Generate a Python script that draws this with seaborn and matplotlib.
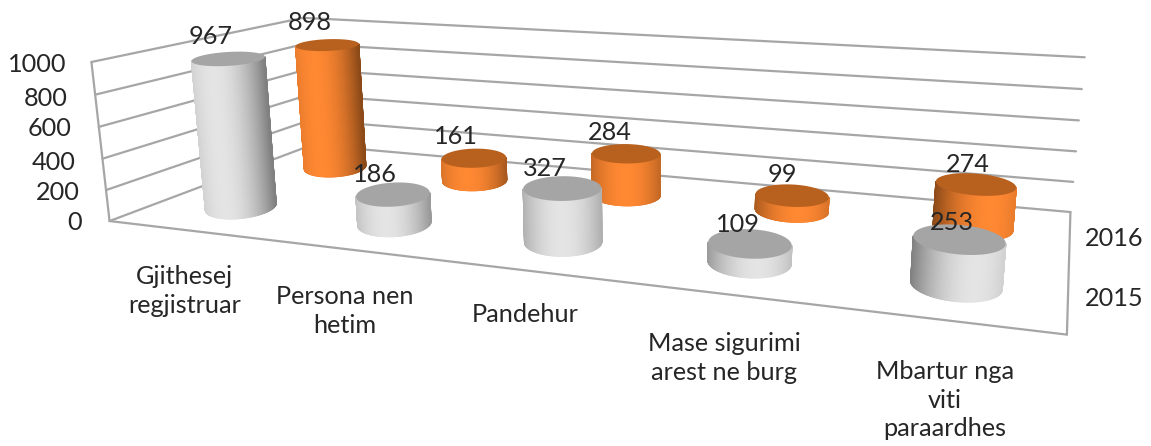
import numpy as np
import pandas as pd
import matplotlib
matplotlib.use("Agg")
import matplotlib.pyplot as plt
from matplotlib.collections import PolyCollection
import seaborn as sns

# ---- data ----
categories = ["Gjithesej\nregjistruar", "Persona nen\nhetim", "Pandehur",
              "Mase sigurimi\narest ne burg", "Mbartur nga\nviti\nparaardhes"]
series_names = ["2015", "2016"]
values_2015 = [967, 186, 327, 109, 253]
values_2016 = [898, 161, 284, 99, 274]
z_ticks = [0, 200, 400, 600, 800, 1000]

# ---- layout / style ----
W, H = 1151, 446
Z_MAX = 1000
GRID = "#a6a6a6"
FONT = "Lato"
FS = 18.2
RU, RV = 0.042, 0.12
TILT_LEFT, TILT_SLOPE = -0.032, 0.028
anchors = [((0, 0, 0), (109, 221), 3), ((0, 0, 1), (92, 62), 3), ((0, 1, 0), (317, 145), 1),
           ((0, 1, 1), (298, 18), 1), ((1, 1, 0), (1069, 212), 1), ((1, 1, 1), (1086, 57), 1),
           ((1, 0, 0), (1067, 335), 1)]
palettes = {
    "2015": dict(top="#a5a5a5", hi=np.array([228, 228, 228]), lo=np.array([128, 128, 128])),
    "2016": dict(top="#b8611f", hi=np.array([255, 136, 50]), lo=np.array([140, 74, 24])),
}
tick_px = {0: (82, 223), 200: (80, 193), 400: (76, 162), 600: (72, 129), 800: (68, 98), 1000: (66, 65)}
cat_px = [(185, 291), (345, 311), (525, 314), (724, 358), (945, 400)]
series_px = {"2015": (1114, 299), "2016": (1114, 239)}
label_px = {"2015": [(211, 37), (375, 174), (545, 168), (738, 224), (952, 223)],
            "2016": [(310, 22), (456, 137), (610, 132), (782, 174), (968, 164)]}


def fit_projection(pairs):
    rows = []
    for (x, y, z), (px, py), w in pairs:
        rows.append(w * np.array([x, y, z, 1, 0, 0, 0, 0, -px * x, -px * y, -px * z, -px], float))
        rows.append(w * np.array([0, 0, 0, 0, x, y, z, 1, -py * x, -py * y, -py * z, -py], float))
    return np.linalg.svd(np.array(rows, float))[2][-1].reshape(3, 4)


P = fit_projection(anchors)


def project(u, v, val):
    u, v, z = np.broadcast_arrays(u, v, np.asarray(val, float) / Z_MAX)
    h = P @ np.vstack([u.ravel(), v.ravel(), z.ravel(), np.ones(u.size)])
    return h[0] / h[2], h[1] / h[2]


sns.set_theme(style="white")
plt.rcParams["font.family"] = [FONT, "DejaVu Sans"]
fig = plt.figure(figsize=(W / 100, H / 100), dpi=100)
ax = fig.add_axes([0, 0, 1, 1])

# walls and gridlines
segments = []
sid = 0
for t in z_ticks:
    for a, b in [((0, 0), (0, 1)), ((0, 1), (1, 1))]:
        xs, ys = project(np.array([a[0], b[0]]), np.array([a[1], b[1]]), [t, t])
        segments.append(pd.DataFrame({"x": xs, "y": ys, "seg": sid}))
        sid += 1
for a, b in [((0, 0, 0), (1, 0, 0)), ((0, 0, 0), (0, 0, Z_MAX)), ((1, 1, 0), (1, 0, 0))]:
    xs, ys = project(np.array([a[0], b[0]]), np.array([a[1], b[1]]), [a[2], b[2]])
    segments.append(pd.DataFrame({"x": xs, "y": ys, "seg": sid}))
    sid += 1
grid_df = pd.concat(segments, ignore_index=True)
sns.lineplot(data=grid_df, x="x", y="y", units="seg", estimator=None, sort=False,
             color=GRID, lw=1.6, ax=ax, legend=False, zorder=1)


def cylinder(u, v, val, style, zo):
    phi = np.linspace(0, 2 * np.pi, 361)[:-1]
    tilt = TILT_LEFT + TILT_SLOPE * u
    cu, cv = u + RU * np.cos(phi), v + RV * np.sin(phi) + tilt * np.cos(phi)
    bx, by = project(cu, cv, 0)
    tx, ty = project(cu, cv, val)
    il, ir = int(np.argmin(bx)), int(np.argmax(bx))
    idx = (np.arange(il, il + 360) % 360)
    stop = int(np.where(idx == ir)[0][0])
    arc1 = idx[:stop + 1]
    arc2 = idx[stop:]
    arc = arc1 if by[arc1].mean() > by[arc2].mean() else arc2[::-1]
    x0, x1 = bx[il], bx[ir]
    peak = 0.5 + 0.5 * (u - 0.5)
    polys, cols = [], []
    for a, b in zip(arc[:-1], arc[1:]):
        polys.append([(bx[a], by[a]), (bx[b], by[b]), (tx[b], ty[b]), (tx[a], ty[a])])
        s = ((bx[a] + bx[b]) / 2 - x0) / (x1 - x0)
        f = min(1, ((s - peak) / 0.7) ** 2)
        cols.append((style["hi"] + (style["lo"] - style["hi"]) * f) / 255)
    ax.add_collection(PolyCollection(polys, facecolors=cols, edgecolors=cols, linewidths=0.8, zorder=zo))
    ax.fill(tx, ty, color=style["top"], lw=0, zorder=zo + 0.1)


series = {"2015": values_2015, "2016": values_2016}
depth = {"2016": 0.75, "2015": 0.25}
zo = 2
for name in ["2016", "2015"]:
    for i, val in enumerate(series[name]):
        cylinder((i + 0.5) / len(categories), depth[name], val, palettes[name], zo)
        zo += 1

# text
ts = dict(fontsize=FS, color="#262626", ha="center", va="center", zorder=50)
for t, (x, y) in tick_px.items():
    ax.text(x, y, str(t), **{**ts, "ha": "right"})
for c, (x, y) in zip(categories, cat_px):
    ax.text(x, y, c, linespacing=1.3, **ts)
for name, (x, y) in series_px.items():
    ax.text(x, y, name, **ts)
for name in series_names:
    for v, (x, y) in zip(series[name], label_px[name]):
        ax.text(x, y, str(v), **ts)

ax.set_xlim(0, W)
ax.set_ylim(H, 0)
ax.axis("off")
fig.savefig("out.png", dpi=100, facecolor="white")
